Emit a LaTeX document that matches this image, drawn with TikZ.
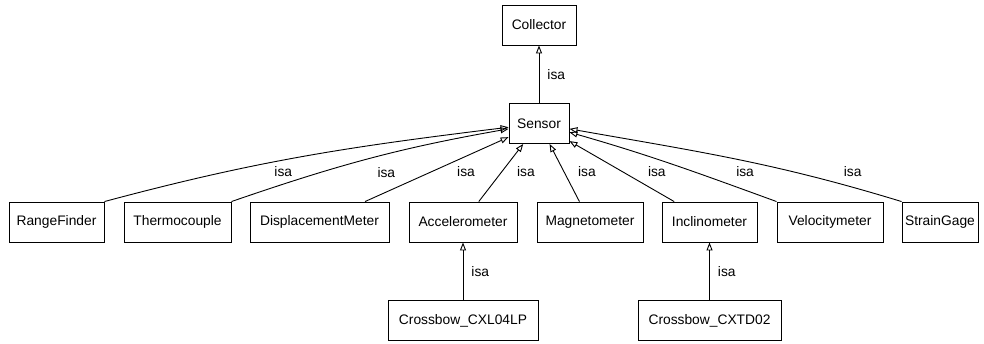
\documentclass[tikz,border=0pt]{standalone}
\usepackage{fontspec}
\setmainfont{Liberation Sans}
\usetikzlibrary{arrows.meta}

\begin{document}
\begin{tikzpicture}[x=1pt, y=1pt, node distance=98.5pt,
  font=\fontsize{13.8}{16}\selectfont]
  \tikzstyle{cls} = [rectangle, draw, line width=0.9pt, minimum height=40pt,
  inner sep=2pt, text centered]
  \tikzstyle{gen} = [line width=0.9pt,
  -{Triangle[open, length=8pt, width=6pt, line width=0.9pt]}]
  \tikzstyle{lbl} = [inner sep=1pt]
  \useasboundingbox (0,0) rectangle (984,-343);

  % Define nodes
  \node[cls, minimum width=74pt] (Collector) at (539,-25) {Collector};
  \node[cls, minimum width=60pt, below of=Collector] (Sensor) {Sensor};

  \node[cls, minimum width=95pt] (RangeFinder) at (56.5,-222) {RangeFinder};
  \node[cls, minimum width=107pt] (Thermocouple) at (177.5,-222) {Thermocouple};
  \node[cls, minimum width=139pt] (DisplacementMeter) at (319.5,-222) {DisplacementMeter};
  \node[cls, minimum width=108pt] (Accelerometer) at (463,-222) {Accelerometer};
  \node[cls, minimum width=106pt] (Magnetometer) at (590,-222) {Magnetometer};
  \node[cls, minimum width=95pt] (Inclinometer) at (709.5,-222) {Inclinometer};
  \node[cls, minimum width=106pt] (Velocitymeter) at (830,-222) {Velocitymeter};
  \node[cls, minimum width=76pt] (StrainGage) at (940,-222) {StrainGage};

  \node[cls, minimum width=150pt, below of=Accelerometer] (CXL04LP) {Crossbow\_CXL04LP};
  \node[cls, minimum width=143pt, below of=Inclinometer] (CXTD02) {Crossbow\_CXTD02};

  \path [gen] (Sensor) edge node [lbl, right=7pt] {isa} (Collector);

  \path [gen] (RangeFinder.north east) edge [out=15, in=187]
    node [lbl, pos=.42, xshift=8pt, yshift=-10pt] {isa} (Sensor);
  \path [gen] (Thermocouple.north east) edge [out=19, in=190]
    node [lbl, pos=.5, xshift=18pt, yshift=-14pt] {isa} (Sensor);
  \path [gen] (DisplacementMeter) edge
    node [lbl, pos=.46, xshift=35pt] {isa} (Sensor);
  \path [gen] (Accelerometer) edge
    node [lbl, pos=.52, xshift=24pt] {isa} (Sensor);
  \path [gen] (Magnetometer) edge
    node [lbl, pos=.52, xshift=23pt] {isa} (Sensor);
  \path [gen] (Inclinometer) edge
    node [lbl, pos=.49, xshift=34pt] {isa} (Sensor);
  \path [gen] (Velocitymeter.north west) edge [out=160, in=-16]
    node [lbl, pos=.2, xshift=13pt, yshift=13.5pt] {isa} (Sensor);
  \path [gen] (StrainGage.north west) edge [out=163, in=-10]
    node [lbl, pos=.15, xshift=5pt, yshift=14pt] {isa} (Sensor);

  \path [gen] (CXL04LP) edge node [lbl, right=7pt] {isa} (Accelerometer);
  \path [gen] (CXTD02) edge node [lbl, right=7pt] {isa} (Inclinometer);
\end{tikzpicture}
\end{document}
